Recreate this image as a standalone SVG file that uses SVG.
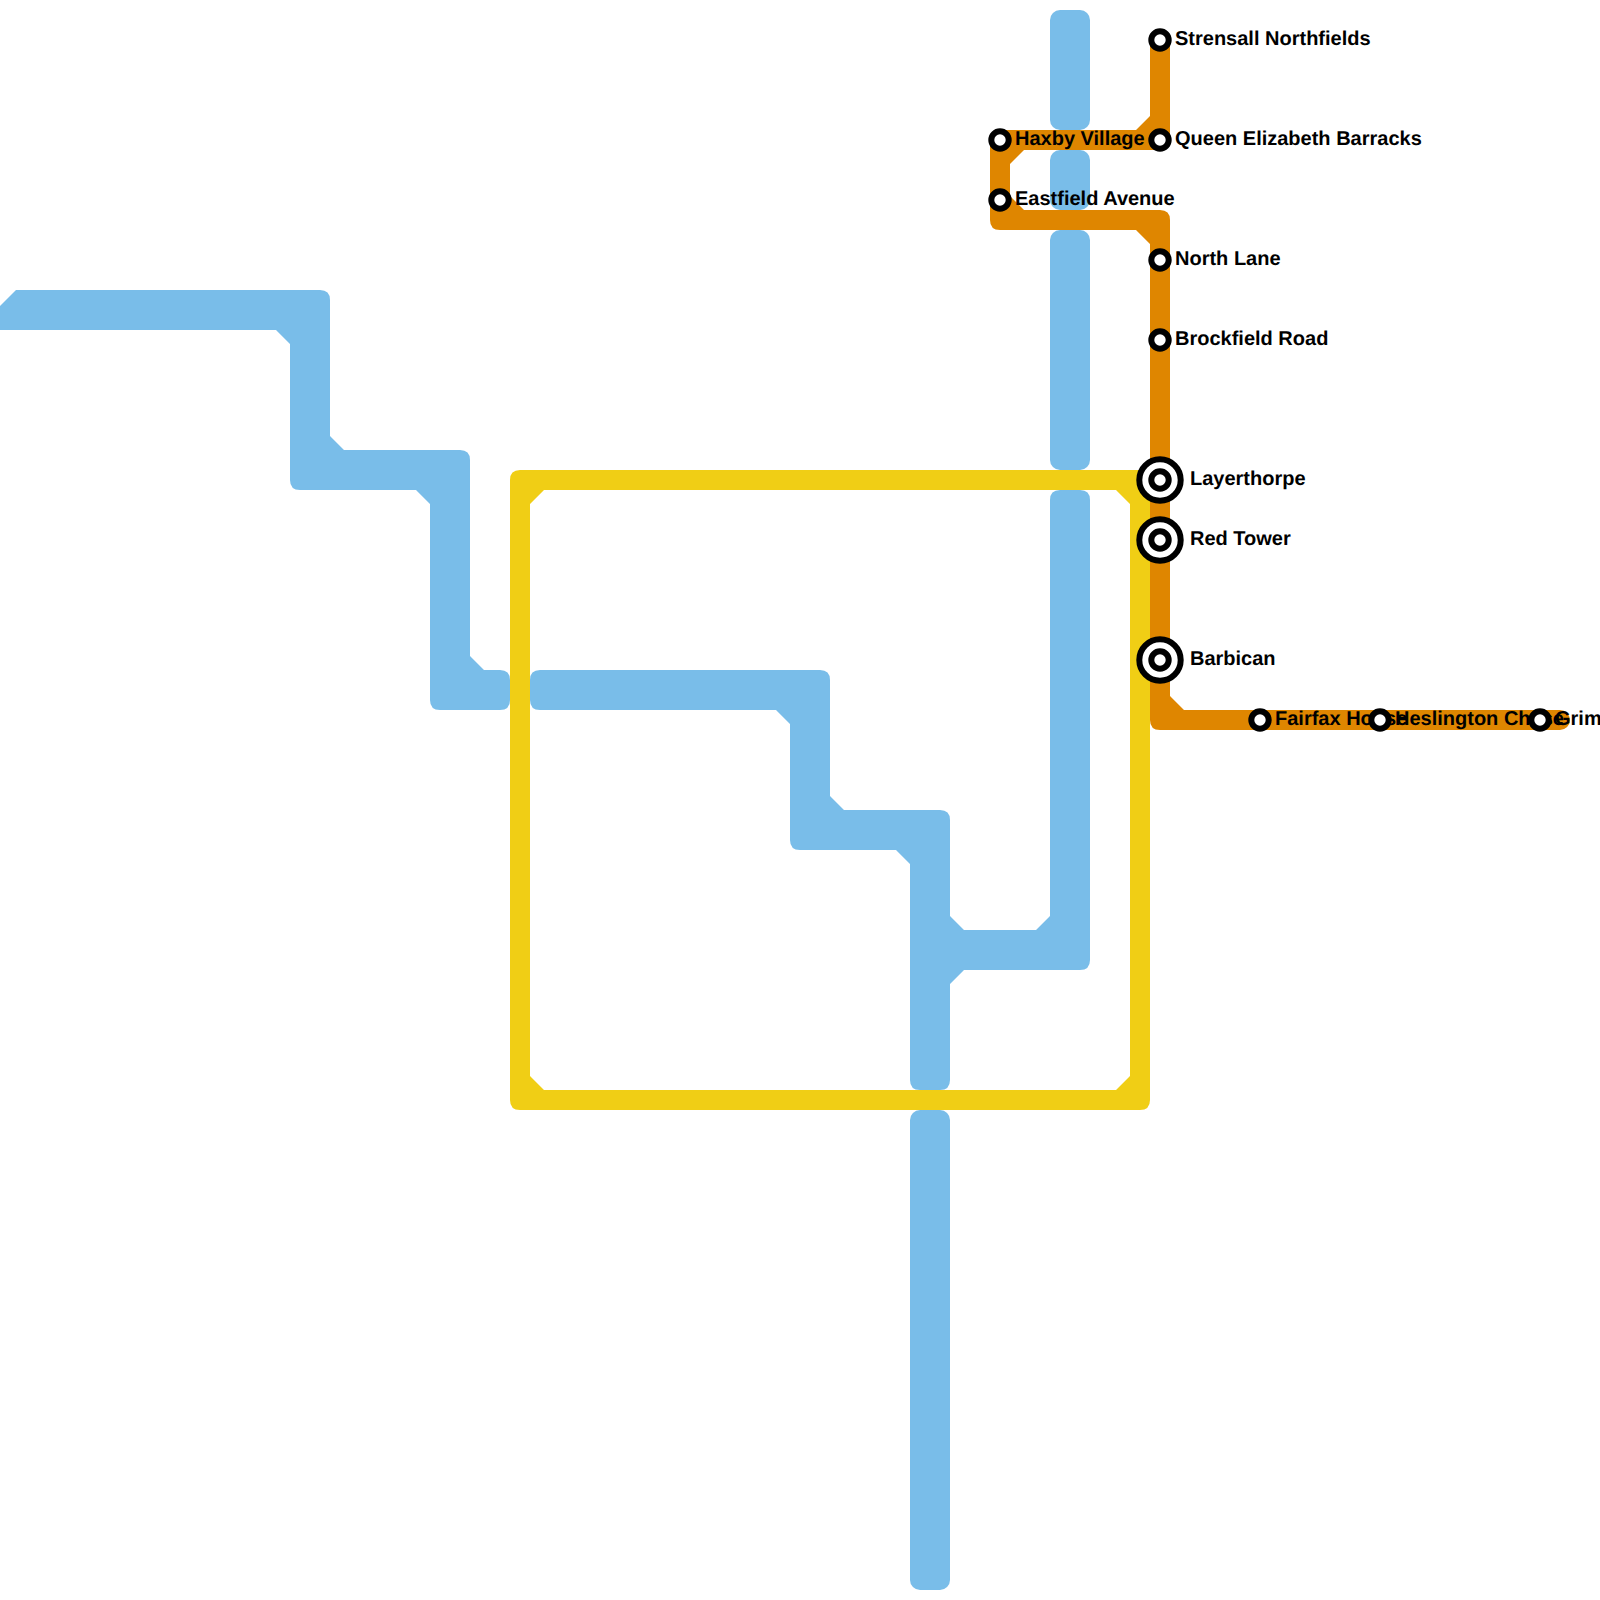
<svg xmlns="http://www.w3.org/2000/svg" width="1600" height="1600" viewBox="0 0 1600 1600">
<style>
.b{fill:#79bde9}.y{fill:#f0ce15}.o{fill:#df8600}
.st{fill:#fff;stroke:#000;stroke-width:6}
text{font-family:"Liberation Sans",Arial,sans-serif;font-weight:700;font-size:20px;fill:#000;text-rendering:geometricPrecision}
</style>
<rect width="1600" height="1600" fill="#fff"/>
<g id="connectors">
<g id="line-blue">
<path class="b" d="M-10 330V316L16 290H320Q330 290 330 300V436L344 450H460Q470 450 470 460V656L484 670H500Q510 670 510 680V700Q510 710 500 710H440Q430 710 430 700V504L416 490H300Q290 490 290 480V344L276 330Z"/>
<path class="b" d="M540 670H820Q830 670 830 680V796L844 810H940Q950 810 950 820V916L964 930H1036L1050 916V500Q1050 490 1060 490H1080Q1090 490 1090 500V960Q1090 970 1080 970H964L950 984V1080Q950 1090 940 1090H920Q910 1090 910 1080V864L896 850H800Q790 850 790 840V724L776 710H540Q530 710 530 700V680Q530 670 540 670Z"/>
<rect class="b" x="1050" y="10" width="40" height="120" rx="10"/>
<rect class="b" x="1050" y="150" width="40" height="60" rx="10"/>
<rect class="b" x="1050" y="230" width="40" height="240" rx="10"/>
<rect class="b" x="910" y="1110" width="40" height="480" rx="10"/>
</g>
<path id="line-yellow" class="y" fill-rule="evenodd" d="M520 470H1150V1100Q1150 1110 1140 1110H520Q510 1110 510 1100V480Q510 470 520 470ZM530 504V1076L544 1090H1116L1130 1076V504L1116 490H544Z"/>
<path id="line-orange" class="o" d="M1150 40H1170V140Q1170 150 1160 150H1024L1010 164V196L1024 210H1160Q1170 210 1170 220V696L1184 710H1560A10 10 0 0 1 1560 730H1160Q1150 730 1150 720V244L1136 230H1000Q990 230 990 220V140Q990 130 1000 130H1136L1150 116Z"/>
</g>
<g id="n-strensall"><text x="1175" y="45">Strensall Northfields</text><circle class="st" cx="1160" cy="40" r="8.7"/></g>
<g id="n-haxby"><text x="1015" y="145">Haxby Village</text><circle class="st" cx="1000" cy="140" r="8.7"/></g>
<g id="n-queen"><text x="1175" y="145">Queen Elizabeth Barracks</text><circle class="st" cx="1160" cy="140" r="8.7"/></g>
<g id="n-eastfield"><text x="1015" y="205">Eastfield Avenue</text><circle class="st" cx="1000" cy="200" r="8.7"/></g>
<g id="n-north"><text x="1175" y="265">North Lane</text><circle class="st" cx="1160" cy="260" r="8.7"/></g>
<g id="n-brockfield"><text x="1175" y="345">Brockfield Road</text><circle class="st" cx="1160" cy="340" r="8.7"/></g>
<g id="n-layerthorpe"><text x="1190" y="485">Layerthorpe</text><circle class="st" cx="1160" cy="480" r="20.7"/><circle class="st" cx="1160" cy="480" r="8.7"/></g>
<g id="n-red"><text x="1190" y="545">Red Tower</text><circle class="st" cx="1160" cy="540" r="20.7"/><circle class="st" cx="1160" cy="540" r="8.7"/></g>
<g id="n-barbican"><text x="1190" y="665">Barbican</text><circle class="st" cx="1160" cy="660" r="20.7"/><circle class="st" cx="1160" cy="660" r="8.7"/></g>
<g id="n-fairfax"><text x="1275" y="725">Fairfax House</text><circle class="st" cx="1260" cy="720" r="8.7"/></g>
<g id="n-heslington"><text x="1395" y="725">Heslington Chase</text><circle class="st" cx="1380" cy="720" r="8.7"/></g>
<g id="n-grim"><text x="1555" y="725">Grim</text><circle class="st" cx="1540" cy="720" r="8.7"/></g>
</svg>
